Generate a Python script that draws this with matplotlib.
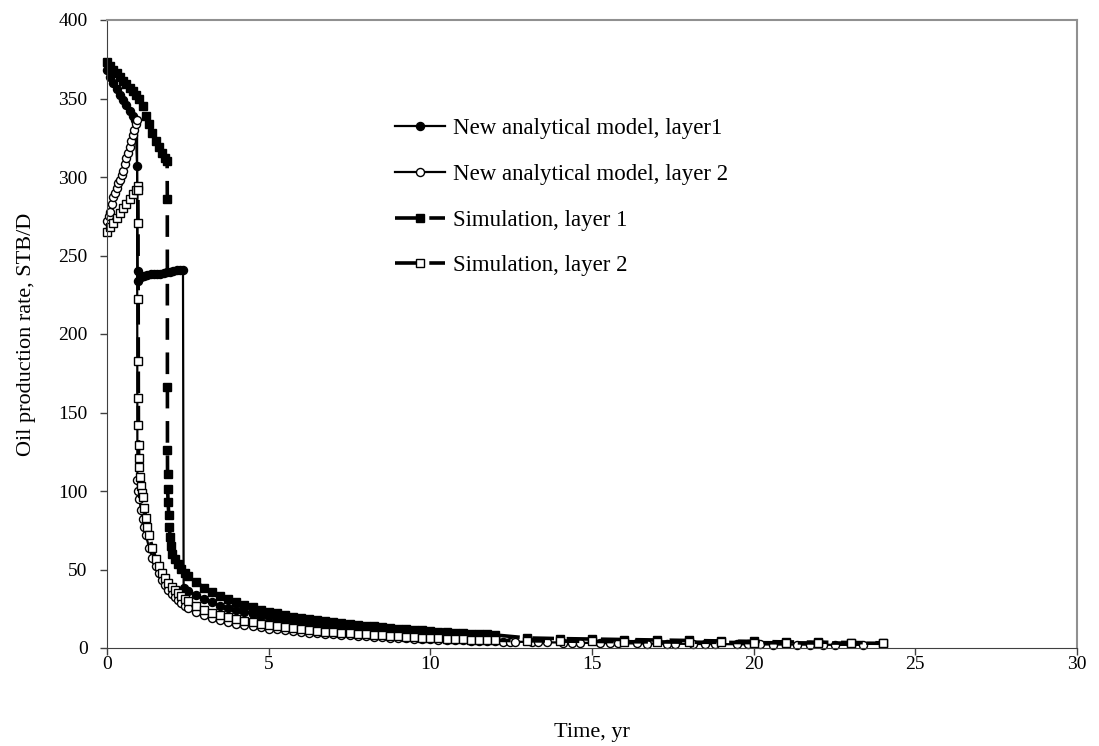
import matplotlib
matplotlib.use('Agg')
import matplotlib.pyplot as plt

# ---- data ----
# new analytical model, layer 1 (filled circles)
anal1_t = [0, 0.1, 0.2, 0.3, 0.4, 0.5, 0.6, 0.7, 0.8, 0.88, 0.93, 0.95, 0.97,
           1.05, 1.15, 1.25, 1.35, 1.45, 1.55, 1.65, 1.75, 1.85, 1.95, 2.05, 2.15, 2.25, 2.35,
           2.37, 2.5, 2.75, 3.0, 3.25, 3.5, 3.75, 4.0, 4.25, 4.5, 4.75, 5.0, 5.25, 5.5, 5.75,
           6.0, 6.25, 6.5, 6.75, 7.0, 7.25, 7.5, 7.75, 8.0, 8.25, 8.5, 8.75, 9.0, 9.25, 9.5,
           9.75, 10.0, 10.25, 10.5, 10.75, 11.0, 11.25, 11.5, 11.75, 12.0]
anal1_q = [368, 364, 360, 356, 352, 349, 346, 342, 339, 336, 307, 240, 234,
           236, 237, 237.5, 238, 238, 238.5, 238.5, 239, 239.5, 239.5, 240, 240.5, 240.5, 241,
           38, 36.5, 33.5, 31, 29, 27, 25.5, 24, 22.8, 21.7, 20.6, 19.6, 18.7, 17.9, 17.1,
           16.4, 15.8, 15.2, 14.6, 14.0, 13.5, 13.0, 12.5, 12.0, 11.6, 11.2, 10.8, 10.4, 10.0, 9.7,
           9.4, 9.1, 8.8, 8.5, 8.2, 7.9, 7.6, 7.3, 7.0, 6.8]

# new analytical model, layer 2 (open circles)
anal2_t = [0, 0.05, 0.1, 0.15, 0.2, 0.25, 0.3, 0.35, 0.4, 0.45, 0.5, 0.55, 0.6, 0.65,
           0.7, 0.75, 0.8, 0.85, 0.9, 0.93,
           0.94, 0.97, 1.0, 1.05, 1.1, 1.15, 1.2, 1.3, 1.4, 1.5, 1.6, 1.7, 1.8, 1.9, 2.0,
           2.1, 2.2, 2.3, 2.4, 2.5, 2.75, 3.0, 3.25, 3.5, 3.75, 4.0, 4.25, 4.5, 4.75, 5.0,
           5.25, 5.5, 5.75, 6.0, 6.25, 6.5, 6.75, 7.0, 7.25, 7.5, 7.75, 8.0, 8.25, 8.5, 8.75,
           9.0, 9.25, 9.5, 9.75, 10.0, 10.25, 10.5, 10.75, 11.0, 11.25, 11.5, 11.75, 12.0,
           12.26, 12.47, 12.62, 13.13, 13.34, 13.6, 14.11, 14.37, 14.63, 15.25, 15.56, 15.8,
           16.38, 16.69, 17.31, 17.57, 18.13, 18.5, 18.8, 19.48, 19.83, 20.2, 20.6, 21.33,
           21.74, 22.15, 22.5, 23.38]
anal2_q = [272, 275, 278, 283, 287, 290, 293, 296, 298, 301, 304, 308, 312, 315,
           319, 323, 327, 330, 334, 336,
           107, 100, 95, 88, 82, 77, 72, 64, 57.5, 52, 47.5, 43.5, 40, 37, 34.5,
           32.3, 30.3, 28.6, 27, 25.7, 23, 21, 19.3, 17.9, 16.7, 15.6, 14.7, 13.9, 13.1, 12.4,
           11.8, 11.2, 10.7, 10.2, 9.8, 9.4, 9.0, 8.6, 8.3, 8.0, 7.7, 7.4, 7.1, 6.8, 6.6,
           6.3, 6.1, 5.9, 5.7, 5.5, 5.3, 5.1, 4.9, 4.8, 4.6, 4.5, 4.3, 4.2,
           4.1, 4.0, 4.0, 3.8, 3.7, 3.6, 3.5, 3.4, 3.3, 3.2, 3.1, 3.0,
           2.9, 2.8, 2.7, 2.7, 2.6, 2.5, 2.5, 2.4, 2.3, 2.3, 2.2, 2.2,
           2.1, 2.1, 2.0, 2.0]

# simulation, layer 1 (filled squares)
sim1_t = [0, 0.1, 0.2, 0.3, 0.4, 0.5, 0.6, 0.7, 0.8, 0.9, 1.0, 1.1, 1.2, 1.3, 1.4, 1.5,
          1.6, 1.7, 1.8, 1.86,
          1.865, 1.868, 1.87, 1.872, 1.875, 1.89, 1.91, 1.93, 1.95, 1.98, 2.02, 2.1, 2.2,
          2.3, 2.4, 2.5, 2.75, 3.0, 3.25, 3.5, 3.75, 4.0, 4.25, 4.5, 4.75, 5.0, 5.25, 5.5,
          5.75, 6.0, 6.25, 6.5, 6.75, 7.0, 7.25, 7.5, 7.75, 8.0, 8.25, 8.5, 8.75, 9.0, 9.25,
          9.5, 9.75, 10.0, 10.25, 10.5, 10.75, 11.0, 11.25, 11.5, 11.75, 12.0,
          13, 14, 15, 16, 17, 18, 19, 20, 21, 22, 23, 24]
sim1_q = [373, 371, 368, 366, 364, 361, 359, 357, 355, 352, 350, 345, 339, 334, 328, 323,
          319, 315, 312, 310,
          286, 166, 126, 111, 101, 93, 85, 77, 71, 65, 60, 57, 53.5,
          50.5, 48, 46, 42, 38.5, 35.5, 33, 31, 29, 27.3, 25.8, 24.4, 23.1, 22, 21,
          20, 19.2, 18.4, 17.7, 17, 16.4, 15.8, 15.2, 14.7, 14.2, 13.7, 13.2, 12.8, 12.4, 12,
          11.6, 11.2, 10.8, 10.5, 10.1, 9.8, 9.5, 9.2, 8.9, 8.6, 8.3,
          6.4, 6.0, 5.7, 5.4, 5.1, 4.8, 4.5, 4.2, 3.9, 3.7, 3.5, 3.3]

# simulation, layer 2 (open squares)
sim2_t = [0, 0.1, 0.2, 0.3, 0.4, 0.5, 0.6, 0.7, 0.8, 0.9, 0.95,
          0.955, 0.96, 0.965, 0.968, 0.97, 0.972, 0.975, 0.98, 0.99, 1.01, 1.04, 1.07,
          1.1, 1.15, 1.2, 1.25, 1.3, 1.4, 1.5, 1.6, 1.7, 1.8, 1.9, 2.0, 2.1, 2.2, 2.3, 2.4,
          2.5, 2.75, 3.0, 3.25, 3.5, 3.75, 4.0, 4.25, 4.5, 4.75, 5.0, 5.25, 5.5, 5.75, 6.0,
          6.25, 6.5, 6.75, 7.0, 7.25, 7.5, 7.75, 8.0, 8.25, 8.5, 8.75, 9.0, 9.25, 9.5, 9.75,
          10.0, 10.25, 10.5, 10.75, 11.0, 11.25, 11.5, 11.75, 12.0,
          13, 14, 15, 16, 17, 18, 19, 20, 21, 22, 23, 24]
sim2_q = [265, 268, 271, 274, 277, 280, 283, 286, 289, 291.5, 294,
          292, 271, 222, 183, 159, 142, 129, 121, 115, 109, 103, 99,
          96, 89, 83, 77, 72, 64, 57, 52, 48, 44.5, 41.5, 39, 37, 35, 33, 31.5,
          30, 27, 24.5, 22.5, 21, 19.6, 18.4, 17.3, 16.3, 15.4, 14.6, 13.9, 13.2, 12.6, 12,
          11.5, 11, 10.5, 10.1, 9.7, 9.3, 8.9, 8.6, 8.3, 8.0, 7.7, 7.4, 7.1, 6.9, 6.6,
          6.4, 6.2, 6.0, 5.8, 5.6, 5.4, 5.2, 5.0, 4.9,
          4.6, 4.4, 4.2, 4.0, 3.9, 3.7, 3.6, 3.4, 3.3, 3.2, 3.1, 3.0]

labels = ['New analytical model, layer1', 'New analytical model, layer 2',
          'Simulation, layer 1', 'Simulation, layer 2']

plt.rcParams['font.family'] = ['Liberation Serif', 'DejaVu Serif']

fig = plt.figure(figsize=(10.99, 7.46), dpi=100)
ax = fig.add_axes([107 / 1099, 98 / 746, 970 / 1099, 628 / 746])

dash = (0, (6, 3.5))
ms = 5.8
ax.plot(anal1_t, anal1_q, '-', color='k', lw=1.6, marker='o', ms=ms, mfc='k', mec='k',
        mew=1, clip_on=False, label=labels[0])
ax.plot(anal2_t, anal2_q, '-', color='k', lw=1.6, marker='o', ms=ms, mfc='white', mec='k',
        mew=1, clip_on=False, label=labels[1])
ax.plot(sim1_t, sim1_q, linestyle=dash, color='k', lw=2.6, marker='s', ms=ms - 0.4, mfc='k',
        mec='k', mew=1, clip_on=False, label=labels[2])
ax.plot(sim2_t, sim2_q, linestyle=dash, color='k', lw=2.6, marker='s', ms=ms - 0.4, mfc='white',
        mec='k', mew=1, clip_on=False, label=labels[3])

ax.set_xlim(0, 30)
ax.set_ylim(0, 400)
ax.set_xticks(range(0, 31, 5))
ax.set_yticks(range(0, 401, 50))
ax.tick_params(direction='out', length=5, width=1, color='#404040', labelsize=14)
ax.tick_params(axis='x', pad=1)
ax.tick_params(axis='y', pad=9)
for s in ['left', 'bottom']:
    ax.spines[s].set_color('#404040')
for s in ['top', 'right']:
    ax.spines[s].set_color('#909090')
    ax.spines[s].set_linewidth(1.5)

ax.set_xlabel('Time, yr', fontsize=16, labelpad=36)
ax.set_ylabel('Oil production rate, STB/D', fontsize=16, labelpad=16)

leg = fig.legend(loc='upper left', bbox_to_anchor=(395 / 1099, 1 - 118 / 746),
                 frameon=False, fontsize=16.5, handlelength=2.2, handletextpad=0.35,
                 labelspacing=1.08, borderpad=0, borderaxespad=0)

fig.savefig('out.png', dpi=100)
